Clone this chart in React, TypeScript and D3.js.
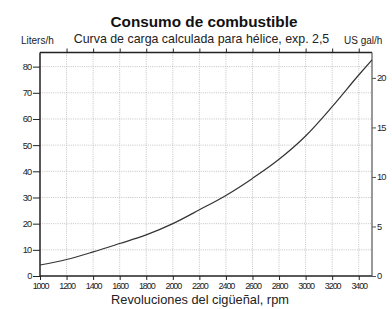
import * as d3 from "d3";
import { useEffect, useRef } from "react";

// rpm and fuel consumption (L/h)
const rpm = [1000, 1200, 1400, 1600, 1800, 2000, 2200, 2400, 2600, 2800, 3000, 3200, 3400, 3500];
const litersPerHour = [4.2, 6.3, 9.2, 12.4, 15.7, 20.0, 25.3, 30.8, 37.3, 44.6, 53.5, 64.7, 76.8, 82.6];

const xTicks = [1000, 1200, 1400, 1600, 1800, 2000, 2200, 2400, 2600, 2800, 3000, 3200, 3400];
const leftTicks = [0, 10, 20, 30, 40, 50, 60, 70, 80];
const rightTicks = [0, 5, 10, 15, 20];

const LITERS_PER_GAL = 3.785;

export default function App() {
  const svgRef = useRef<SVGSVGElement>(null);

  useEffect(() => {
    if (!svgRef.current) return;
    const svg = d3.select(svgRef.current);
    svg.selectAll("*").remove();

    const width = 392;
    const height = 309;
    const left = 40;
    const right = 372;
    const top = 52.5;
    const bottom = 276;
    const font = "'Liberation Sans', Arial, sans-serif";

    svg.attr("viewBox", `0 0 ${width} ${height}`);
    svg.append("rect").attr("width", width).attr("height", height).attr("fill", "#fff");

    const x = d3.scaleLinear().domain([1000, 3500]).range([left, right]);
    const yL = d3.scaleLinear().domain([0, 85.4]).range([bottom, top]);
    const yG = d3.scaleLinear().domain([0, 85.4 / LITERS_PER_GAL]).range([bottom, top]);

    // grid
    const grid = svg.append("g").attr("stroke", "#b5b5b5").attr("stroke-width", 0.8).attr("stroke-dasharray", "1,1.2");
    grid.selectAll(".gx")
      .data(xTicks.slice(1))
      .enter()
      .append("line")
      .attr("x1", (d) => x(d))
      .attr("x2", (d) => x(d))
      .attr("y1", top)
      .attr("y2", bottom);
    grid.selectAll(".gy")
      .data(leftTicks.slice(1))
      .enter()
      .append("line")
      .attr("x1", left)
      .attr("x2", right)
      .attr("y1", (d) => yL(d))
      .attr("y2", (d) => yL(d));

    const styleAxis = (
      g: d3.Selection<SVGGElement, unknown, null, undefined>,
      size: number,
      spacing: number
    ) => {
      g.select(".domain").remove();
      g.selectAll(".tick line").attr("stroke", "#222").attr("stroke-width", 1);
      g.selectAll(".tick text")
        .attr("fill", "#222")
        .style("font-family", font)
        .style("font-size", `${size}px`)
        .style("letter-spacing", `${spacing}px`);
    };

    // bottom axis
    const xAxis = svg.append("g")
      .attr("transform", `translate(0,${bottom})`)
      .call(d3.axisBottom(x).tickValues(xTicks).tickSize(4).tickPadding(3).tickFormat(d3.format("d")));
    styleAxis(xAxis, 9, -1.1);

    // top axis ticks
    const topAxis = svg.append("g")
      .attr("transform", `translate(0,${top})`)
      .call(d3.axisTop(x).tickValues(xTicks.slice(1)).tickSize(4).tickFormat(() => ""));
    styleAxis(topAxis, 9, 0);

    // left axis
    const yAxis = svg.append("g")
      .attr("transform", `translate(${left},0)`)
      .call(d3.axisLeft(yL).tickValues(leftTicks).tickSize(7).tickPadding(1.5));
    styleAxis(yAxis, 9.3, -0.8);

    // right axis (US gal/h)
    const gAxis = svg.append("g")
      .attr("transform", `translate(${right},0)`)
      .call(d3.axisRight(yG).tickValues(rightTicks).tickSize(4).tickPadding(1));
    styleAxis(gAxis, 9.3, -0.8);
    gAxis.selectAll(".tick line").attr("stroke", "#555");

    // frame
    svg.append("line").attr("x1", left).attr("x2", right).attr("y1", top).attr("y2", top).attr("stroke", "#222").attr("stroke-width", 1.3);
    svg.append("line").attr("x1", left).attr("x2", right).attr("y1", bottom).attr("y2", bottom).attr("stroke", "#222").attr("stroke-width", 1.5);
    svg.append("line").attr("x1", left).attr("x2", left).attr("y1", top).attr("y2", bottom).attr("stroke", "#222").attr("stroke-width", 1.5);
    svg.append("line").attr("x1", right).attr("x2", right).attr("y1", top).attr("y2", bottom).attr("stroke", "#555").attr("stroke-width", 1.2);

    // curve
    const line = d3.line<number>()
      .x((_d, i) => x(rpm[i]))
      .y((d) => yL(d))
      .curve(d3.curveMonotoneX);
    svg.append("path")
      .datum(litersPerHour)
      .attr("d", line)
      .attr("fill", "none")
      .attr("stroke", "#333")
      .attr("stroke-width", 1.2);

    // titles
    svg.append("text")
      .attr("x", 204)
      .attr("y", 26.5)
      .attr("text-anchor", "middle")
      .style("font-family", font)
      .style("font-size", "15.3px")
      .style("font-weight", "bold")
      .attr("fill", "#111")
      .text("Consumo de combustible");
    svg.append("text")
      .attr("x", 201.5)
      .attr("y", 43.3)
      .attr("text-anchor", "middle")
      .style("font-family", font)
      .style("font-size", "12.4px")
      .attr("fill", "#222")
      .text("Curva de carga calculada para hélice, exp. 2,5");
    svg.append("text")
      .attr("x", 21)
      .attr("y", 43.5)
      .style("font-family", font)
      .style("font-size", "10px")
      .attr("fill", "#222")
      .text("Liters/h");
    svg.append("text")
      .attr("x", 344)
      .attr("y", 43.5)
      .style("font-family", font)
      .style("font-size", "10px")
      .attr("fill", "#222")
      .text("US gal/h");
    svg.append("text")
      .attr("x", 200)
      .attr("y", 304)
      .attr("text-anchor", "middle")
      .style("font-family", font)
      .style("font-size", "12.8px")
      .attr("fill", "#222")
      .text("Revoluciones del cigüeñal, rpm");
  }, []);

  return (
    <svg
      ref={svgRef}
      width={392}
      height={309}
      style={{ position: "absolute", left: 0, top: 0, display: "block" }}
    />
  );
}
